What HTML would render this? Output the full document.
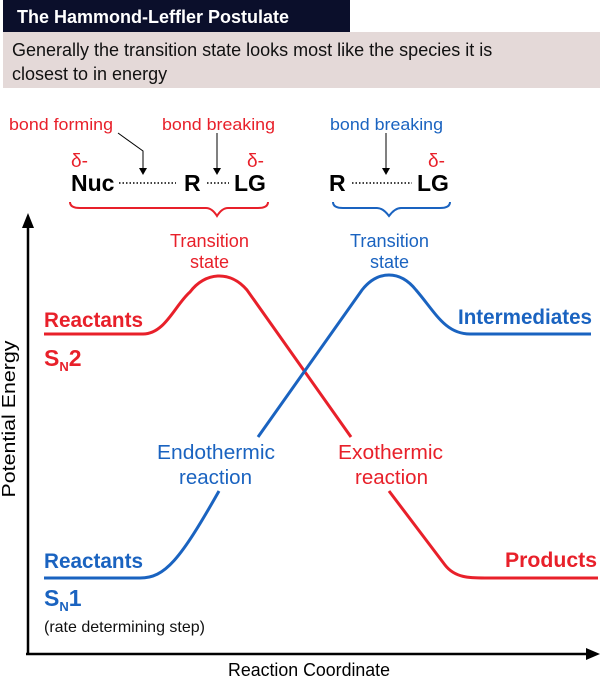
<!DOCTYPE html>
<html><head><meta charset="utf-8"><style>
body{margin:0;background:#fff;width:600px;height:678px;overflow:hidden;font-family:"Liberation Sans",sans-serif}
</style></head><body>
<svg width="600" height="678" viewBox="0 0 600 678" xmlns="http://www.w3.org/2000/svg" font-family="Liberation Sans, sans-serif">
<rect x="3" y="0" width="347" height="32" fill="#0b0f2b"/>
<text x="17" y="23" fill="#fff" font-size="18" font-weight="bold">The Hammond-Leffler Postulate</text>
<rect x="3" y="32" width="597" height="56" fill="#e4d9d8"/>
<text x="12" y="56" font-size="18" fill="#111">Generally the transition state looks most like the species it is</text>
<text x="12" y="80" font-size="18" fill="#111">closest to in energy</text>

<g font-size="17" fill="#e8202a">
<text x="9" y="130" textLength="104" lengthAdjust="spacingAndGlyphs">bond forming</text>
<text x="162" y="130" textLength="113" lengthAdjust="spacingAndGlyphs">bond breaking</text>
<text x="71" y="167" font-size="19">δ-</text>
<text x="247" y="167" font-size="19">δ-</text>
</g>
<text x="330" y="130" font-size="17" fill="#1a63c0" textLength="113" lengthAdjust="spacingAndGlyphs">bond breaking</text>
<text x="428" y="167" font-size="19" fill="#e8202a">δ-</text>
<g font-size="23" font-weight="bold" fill="#000">
<text x="71" y="191">Nuc</text>
<text x="184" y="191">R</text>
<text x="234" y="191">LG</text>
<text x="329" y="191">R</text>
<text x="417" y="191">LG</text>
</g>
<g stroke="#000" stroke-width="1.5" stroke-dasharray="1.5,2" fill="none">
<line x1="119" y1="183" x2="176" y2="183"/>
<line x1="207" y1="183" x2="229" y2="183"/>
<line x1="352" y1="183" x2="412" y2="183"/>
</g>
<g stroke="#000" stroke-width="1" fill="none">
<polyline points="118,133 143,151 143,172"/>
<line x1="217" y1="133" x2="217" y2="172"/>
<line x1="386" y1="133" x2="386" y2="172"/>
</g>
<g fill="#000">
<polygon points="139,168 147,168 143,175"/>
<polygon points="213,168 221,168 217,175"/>
<polygon points="382,168 390,168 386,175"/>
</g>
<path d="M70,202 Q70,208 80,208 L206,208 Q212,208 217,216 Q222,208 228,208 L258,208 Q268,208 268,202" stroke="#e8202a" stroke-width="2" fill="none"/>
<path d="M333,202 Q333,208 343,208 L377,208 Q383,208 389,216 Q395,208 401,208 L440,208 Q450,208 450,202" stroke="#1a63c0" stroke-width="2" fill="none"/>

<g stroke="#000" stroke-width="2.5" fill="none">
<line x1="28" y1="226" x2="28" y2="655"/>
<line x1="26" y1="654" x2="588" y2="654"/>
</g>
<polygon points="22,228 34,228 28,213" fill="#000"/>
<polygon points="586,648 586,660 600,654" fill="#000"/>
<text transform="translate(15,419) rotate(-90)" font-size="18" text-anchor="middle" fill="#000" textLength="157" lengthAdjust="spacingAndGlyphs">Potential Energy</text>
<text x="228" y="676" font-size="18" fill="#000" textLength="162" lengthAdjust="spacingAndGlyphs">Reaction Coordinate</text>

<g stroke="#e8202a" stroke-width="3" fill="none">
<path d="M44,334 L143,334 C165,334 175,305 190,292 C205,272 230,270 247,290 L351,437"/>
<path d="M389,491 L445,565 C455,578 470,578 485,578 L598,578"/>
</g>
<g stroke="#1a63c0" stroke-width="3" fill="none">
<path d="M44,578 L140,578 C165,578 180,560 219,491"/>
<path d="M258,437 L362,290 C378,270 400,270 416,290 C435,312 445,334 470,334 L591,334"/>
</g>

<g font-size="18" fill="#e8202a">
<text x="170" y="247" textLength="79" lengthAdjust="spacingAndGlyphs">Transition</text>
<text x="190" y="268">state</text>
<text x="338" y="459" font-size="20" textLength="105" lengthAdjust="spacingAndGlyphs">Exothermic</text>
<text x="355" y="484" font-size="20" textLength="73" lengthAdjust="spacingAndGlyphs">reaction</text>
</g>
<g font-size="18" fill="#1a63c0">
<text x="350" y="247" textLength="79" lengthAdjust="spacingAndGlyphs">Transition</text>
<text x="370" y="268">state</text>
<text x="157" y="459" font-size="20" textLength="118" lengthAdjust="spacingAndGlyphs">Endothermic</text>
<text x="179" y="484" font-size="20" textLength="73" lengthAdjust="spacingAndGlyphs">reaction</text>
</g>
<g font-weight="bold" font-size="21">
<text x="44" y="327" fill="#e8202a" textLength="99" lengthAdjust="spacingAndGlyphs">Reactants</text>
<text x="44" y="366" fill="#e8202a" font-size="23">S<tspan font-size="13" dy="5">N</tspan><tspan dy="-5">2</tspan></text>
<text x="458" y="324" fill="#1a63c0" textLength="134" lengthAdjust="spacingAndGlyphs">Intermediates</text>
<text x="44" y="568" fill="#1a63c0" textLength="99" lengthAdjust="spacingAndGlyphs">Reactants</text>
<text x="44" y="606" fill="#1a63c0" font-size="23">S<tspan font-size="13" dy="5">N</tspan><tspan dy="-5">1</tspan></text>
<text x="505" y="567" fill="#e8202a" textLength="92" lengthAdjust="spacingAndGlyphs">Products</text>
</g>
<text x="44" y="632" font-size="16" fill="#111" textLength="161" lengthAdjust="spacingAndGlyphs">(rate determining step)</text>
</svg>
</body></html>
